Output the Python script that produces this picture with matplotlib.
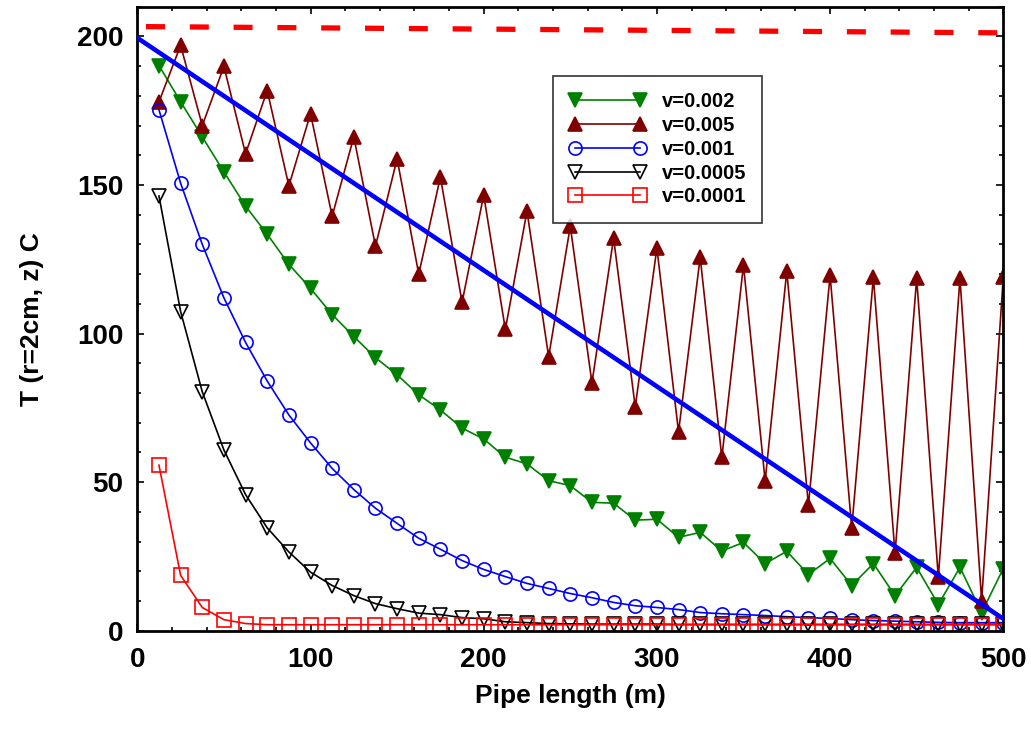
import matplotlib
matplotlib.use("Agg")
import matplotlib.pyplot as plt
import numpy as np
from matplotlib.ticker import MultipleLocator

plt.rcParams["font.family"] = ["Liberation Sans", "DejaVu Sans"]
plt.rcParams["font.weight"] = "bold"

# Pipe positions (m) at which the temperature was sampled
z = np.arange(1, 41) * 12.5

t_v0002 = [190.2, 178.0, 166.2, 154.4, 142.9, 133.4, 123.3, 115.2, 106.4, 99.0,
           91.9, 86.1, 79.4, 74.3, 68.2, 64.5, 58.4, 56.1, 50.5, 48.8,
           43.2, 42.9, 37.2, 37.5, 31.4, 33.1, 26.8, 29.7, 22.6, 26.7,
           18.9, 24.3, 15.2, 22.6, 11.8, 21.3, 8.8, 21.3, 6.1, 20.9]
t_v0005 = [178.0, 197.0, 170.0, 189.9, 160.5, 181.8, 149.7, 174.0, 139.5, 166.2,
           129.4, 158.8, 120.0, 152.7, 110.5, 146.6, 101.4, 141.2, 92.2, 136.1,
           83.4, 132.1, 75.3, 128.8, 66.9, 125.7, 58.3, 123.0, 50.4, 121.0,
           42.2, 119.6, 34.5, 118.9, 26.0, 118.6, 17.9, 118.6, 10.1, 118.9]
t_v0001 = [175.3, 150.6, 130.0, 112.0, 97.0, 84.0, 72.6, 63.2, 54.6, 47.5,
           41.2, 36.1, 31.1, 27.4, 23.6, 20.6, 18.2, 15.9, 14.2, 12.5,
           11.1, 9.5, 8.4, 7.8, 7.1, 6.1, 5.7, 5.4, 5.1, 4.7,
           4.4, 4.1, 3.7, 3.4, 3.2, 3.0, 2.8, 2.7, 2.7, 2.7]
t_v00005 = [146.3, 107.4, 80.4, 60.8, 45.8, 34.6, 26.5, 19.7, 15.2, 11.8,
            9.1, 7.4, 5.9, 5.4, 4.4, 4.0, 3.0, 2.7, 2.4, 2.3,
            2.2, 2.2, 2.2, 2.2, 2.1, 2.1, 2.1, 2.1, 2.1, 2.1,
            2.1, 2.1, 2.1, 2.1, 2.1, 2.1, 2.1, 2.1, 2.1, 2.1]
t_v00001 = [55.7, 18.6, 7.8, 3.7, 2.4] + [2.0] * 35

# Reference lines: inlet temperature and linear estimate
inlet_z = [5, 500]
inlet_t = [203.3, 201.2]
linear_z = [0, 500]
linear_t = [199.5, 4.0]

series = [
    ("v=0.002", t_v0002, "v", "green", True),
    ("v=0.005", t_v0005, "^", "#800000", True),
    ("v=0.001", t_v0001, "o", "blue", False),
    ("v=0.0005", t_v00005, "v", "black", False),
    ("v=0.0001", t_v00001, "s", "red", False),
]

fig = plt.figure(figsize=(10.31, 7.46), dpi=100)
ax = fig.add_axes([0.1332, 0.1546, 0.8399, 0.8364])

for label, t, marker, color, filled in series:
    ax.plot(z, t, marker=marker, color=color, lw=1.2, ms=9.5,
            mfc=color if filled else "none", mec=color, mew=1.2,
            label=label)

ax.plot(linear_z, linear_t, color="blue", lw=3.3, zorder=5)
ax.plot(inlet_z, inlet_t, color="red", lw=3.8, ls=(0, (3.6, 4.7)), zorder=5)

ax.set_xlim(0, 500)
ax.set_ylim(0, 210)
ax.xaxis.set_major_locator(MultipleLocator(100))
ax.xaxis.set_minor_locator(MultipleLocator(20))
ax.yaxis.set_major_locator(MultipleLocator(50))
ax.yaxis.set_minor_locator(MultipleLocator(10))
ax.tick_params(which="both", direction="in", top=True, right=True, width=1.2)
ax.tick_params(which="major", length=5, labelsize=20)
ax.tick_params(axis="x", which="major", pad=12)
ax.tick_params(axis="y", which="major", pad=10)
ax.tick_params(which="minor", length=3)
for s in ax.spines.values():
    s.set_linewidth(2)

ax.set_xlabel("Pipe length (m)", fontsize=19, fontweight="bold", labelpad=8)
ax.set_ylabel("T (r=2cm, z) C", fontsize=19, fontweight="bold", labelpad=24)

leg = ax.legend(loc="upper left", bbox_to_anchor=(0.48, 0.889), numpoints=2,
                handlelength=3.8, fontsize=14.5, labelspacing=0.24,
                frameon=True, fancybox=False, borderpad=0.8,
                handletextpad=0.8, borderaxespad=0)
leg.get_frame().set_edgecolor("black")
leg.get_frame().set_linewidth(1.2)

fig.savefig("out.png", dpi=100)
